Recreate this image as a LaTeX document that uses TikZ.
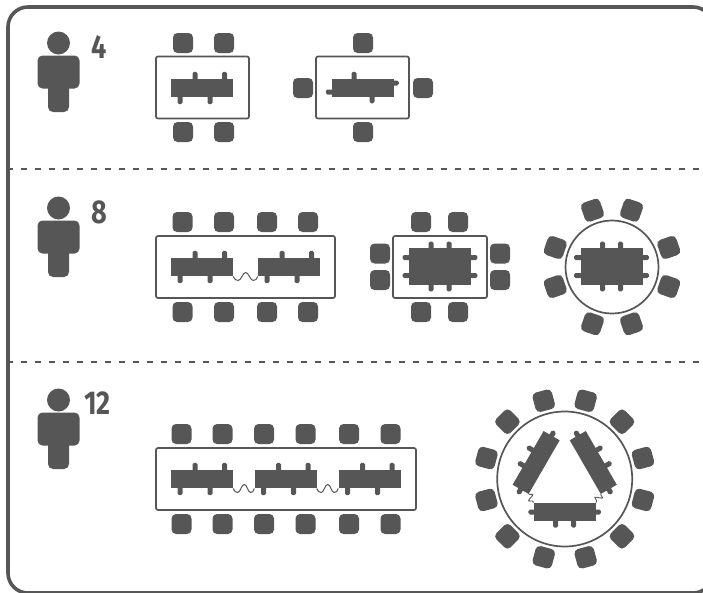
\documentclass[tikz,border=0pt]{standalone}
\usepackage{fontspec}
\setmainfont{Fira Sans}
\usetikzlibrary{positioning,decorations.pathmorphing}
\definecolor{ink}{HTML}{565656}
\tikzset{
  chair/.style={draw=none,fill=ink,rounded corners=4.5pt,minimum size=20pt,inner sep=0pt},
  desk/.style={draw=none,fill=ink,minimum width=62pt,minimum height=18.5pt,inner sep=0pt},
  bigdesk/.style={draw=none,fill=ink,minimum width=62pt,minimum height=37pt,inner sep=0pt},
  room/.style={draw=ink,line width=1.7pt,rounded corners=2pt,fill=none,inner sep=0pt},
  round room/.style={circle,draw=ink,line width=1.7pt,fill=none,inner sep=0pt},
  deskleg/.style={fill=ink,rounded corners=1.6pt,minimum width=5pt,minimum height=10.5pt,inner sep=0pt},
  sideleg/.style={fill=ink,rounded corners=1.6pt,minimum width=10.5pt,minimum height=5pt,inner sep=0pt},
  wire/.style={draw=ink,line width=1pt},
  smallwire/.style={draw=ink,line width=0.9pt,decorate,decoration={snake,amplitude=3.4pt,segment length=7pt}},
  head/.style={circle,fill=ink,minimum size=23pt,inner sep=0pt},
  torso/.style={fill=ink,rounded corners=5pt,minimum width=42pt,minimum height=33pt,inner sep=0pt},
  shin/.style={fill=ink,rounded corners=5pt,minimum width=21pt,minimum height=34pt,inner sep=0pt},
  count/.style={text=ink,font=\fontsize{33}{33}\selectfont\bfseries,xscale=0.82,inner sep=0pt},
  rule/.style={draw=ink,line width=2.2pt,dash pattern=on 6.5pt off 7.5pt}
}
% legs of one desk, long sides only
\newcommand{\sidelegs}[1]{
  \node[deskleg] (#1t1) at ([xshift=-7pt,yshift=1.5pt]#1.north) {};
  \node[deskleg] (#1t2) at ([xshift=22.5pt,yshift=1.5pt]#1.north) {};
  \node[deskleg] (#1b1) at ([xshift=-22pt,yshift=-1.5pt]#1.south) {};
  \node[deskleg] (#1b2) at ([xshift=8pt,yshift=-1.5pt]#1.south) {};
}
% legs on all four sides of a big desk
\newcommand{\alllegs}[1]{
  \foreach \s in {-9,9}{
    \node[deskleg] at ([xshift=\s pt,yshift=1pt]#1.north) {};
    \node[deskleg] at ([xshift=\s pt,yshift=-1pt]#1.south) {};
    \node[sideleg] at ([xshift=1pt,yshift=\s pt]#1.east) {};
    \node[sideleg] at ([xshift=-1pt,yshift=\s pt]#1.west) {};
  }
}
% wavy cable from one desk to the next
\newcommand{\wavy}[4]{
  \draw[wire] (#1) .. controls +(1,3) and +(-2,0) .. ++(#3,4)
    .. controls +(3,0) and +(-3,0) .. ++(#4,-8)
    .. controls +(3,0) and +(-3,0) .. ++(#4,8)
    .. controls +(2,0) and +(-1,3) .. (#2);
}
\begin{document}
\begin{tikzpicture}[x=1pt,y=-1pt]
  \useasboundingbox (0,0) rectangle (703,592);
  \draw[ink,line width=3.6pt,rounded corners=20pt] (8,7) rectangle (713,593);
  \draw[rule] (6.7,169) -- (703,169);
  \draw[rule] (6.7,362) -- (703,362);
  % people
  \foreach \n/\y in {a/0,b/165,c/357}{
    \node[torso] (torso\n) at (58.5,72+\y) {};
    \node[shin] (shin\n) at (58.5,95+\y) {};
    \node[head] (head\n) at (58.5,43+\y) {};
  }
  \node[count] (four) at (99,47) {4};
  \node[count] (eight) at (99,212) {8};
  \node[count] (twelve) at (97.5,403) {12};

  % row of four
  \node[room,minimum width=93pt,minimum height=62pt] (rooma) at (202.5,87.5) {};
  \node[desk] (deska) at (202,88) {};
  \sidelegs{deska}
  \foreach \n/\x/\y in {1/183/43,2/224/43,3/183/132,4/224/132}
    \node[chair] (cha\n) at (\x,\y) {};
  \node[room,minimum width=93pt,minimum height=62pt] (roomb) at (362.5,87.5) {};
  \node[desk] (deskb) at (363,88) {};
  \node[deskleg] (legb1) at (354,77) {};
  \node[deskleg] (legb2) at (372,98) {};
  \node[sideleg] (legb3) at (393.5,83) {};
  \node[sideleg] (legb4) at (331,92) {};
  \foreach \n/\x/\y in {1/363/43,2/303/88,3/423/88,4/363/132}
    \node[chair] (chb\n) at (\x,\y) {};

  % row of eight
  \node[room,minimum width=179pt,minimum height=62pt] (roomc) at (245.5,267) {};
  \node[desk] (deskc) at (202,267) {};
  \node[desk] (deskd) at (289,267) {};
  \sidelegs{deskc}
  \sidelegs{deskd}
  \wavy{deskc.south east}{deskd.south west}{5}{7.5}
  \foreach \n/\x in {1/182.5,2/224,3/267,4/308}{
    \node[chair] (chc\n) at (\x,222) {};
    \node[chair] (chd\n) at (\x,312) {};
  }
  \node[room,minimum width=94pt,minimum height=62pt] (roome) at (440,267) {};
  \node[bigdesk] (deske) at (440,266.5) {};
  \alllegs{deske}
  \foreach \n/\x/\y in {1/421/222,2/458/222,3/421/312,4/458/312,5/380/253.5,6/380/280,7/500/253.5,8/500/280}
    \node[chair] (che\n) at (\x,\y) {};
  \node[round room,minimum size=93pt] (roomf) at (612,267) {};
  \node[bigdesk] (deskf) at (611.5,266.5) {};
  \alllegs{deskf}
  \foreach \a in {19,71,109,161,199,251,289,341}
    \node[chair,rotate=-\a] (chf\a) at ([shift={(\a:60)}]roomf.center) {};

  % row of twelve
  \node[room,minimum width=260pt,minimum height=62pt] (roomg) at (286,479) {};
  \node[desk] (deskg) at (202,479) {};
  \node[desk] (deskh) at (285.5,479) {};
  \node[desk] (deski) at (369.5,479) {};
  \sidelegs{deskg}
  \sidelegs{deskh}
  \sidelegs{deski}
  \wavy{deskg.south east}{deskh.south west}{4.5}{6.5}
  \wavy{deskh.south east}{deski.south west}{4.5}{6.5}
  \foreach \n/\x in {1/181.5,2/222.5,3/264,4/305.5,5/349,6/390.5}{
    \node[chair] (chg\n) at (\x,434) {};
    \node[chair] (chh\n) at (\x,524) {};
  }
  \node[round room,minimum size=135pt] (roomi) at (564.7,479) {};
  \foreach \n/\r in {j/0,k/-120,l/120}{
    \begin{scope}[shift={(roomi.center)},rotate=\r]
      \node[desk,transform shape] (desk\n) at (0,33) {};
      \node[deskleg,transform shape] (desk\n b1) at (-9,43.3) {};
      \node[deskleg,transform shape] (desk\n b2) at (9,43.3) {};
      \node[sideleg,transform shape] (desk\n e1) at (-31,33) {};
      \node[sideleg,transform shape] (desk\n e2) at (31,33) {};
    \end{scope}
  }
  \draw[smallwire] (deskk.north east) -- (deskj.north west);
  \draw[smallwire] (deskl.north west) -- (deskj.north east);
  \foreach \a in {15,45,...,345}
    \node[chair,rotate=-\a] (chi\a) at ([shift={(\a:81)}]roomi.center) {};
\end{tikzpicture}
\end{document}
